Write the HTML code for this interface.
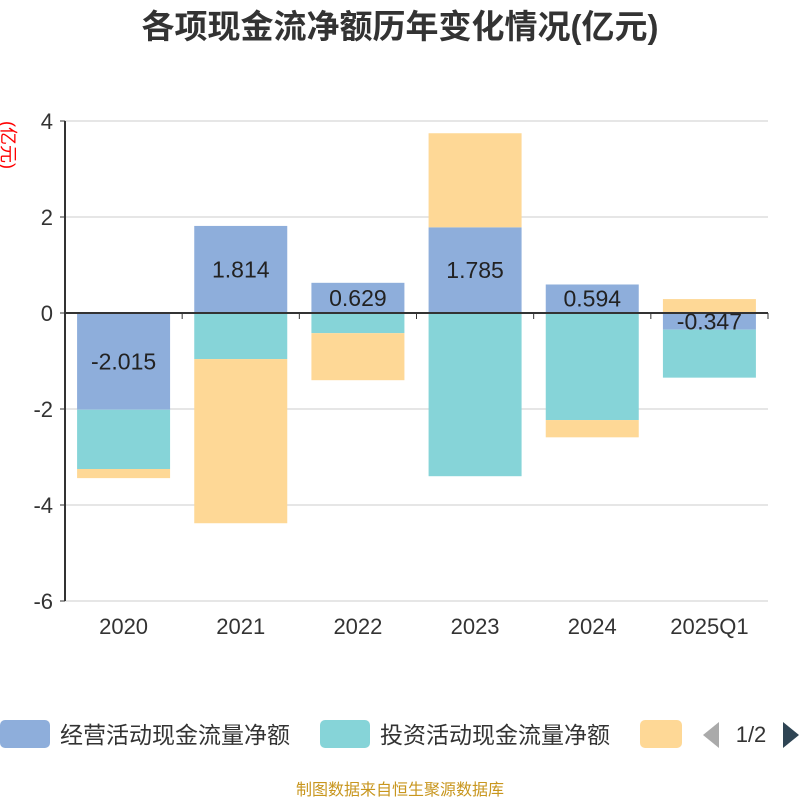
<!DOCTYPE html>
<html><head><meta charset="utf-8"><style>
body{margin:0;background:#fff;font-family:"Liberation Sans","Noto Sans CJK SC",sans-serif}
</style></head><body>
<svg id="c" width="800" height="800" xmlns="http://www.w3.org/2000/svg" style="font-family:'Liberation Sans','Noto Sans CJK SC',sans-serif">
<text x="400" y="38" text-anchor="middle" font-size="33" font-weight="bold" fill="#333">各项现金流净额历年变化情况(亿元)</text>
<text transform="translate(2,145) rotate(90)" text-anchor="middle" font-size="18" fill="red">(亿元)</text>
<g id="grid"></g><g id="bars"></g><g id="axis"></g>
<g>
<rect x="0" y="720" width="50" height="28" rx="5" fill="#8eaedb"/>
<text x="60" y="743" font-size="23" fill="#333">经营活动现金流量净额</text>
<rect x="320" y="720" width="50" height="28" rx="5" fill="#86d4d8"/>
<text x="380" y="743" font-size="23" fill="#333">投资活动现金流量净额</text>
<rect x="640" y="720" width="42" height="28" rx="5" fill="#fed896"/>
<polygon points="719,722 719,748 703,735" fill="#aaa"/>
<text x="751" y="742" text-anchor="middle" font-size="22" fill="#333">1/2</text>
<polygon points="783,722 783,748 799,735" fill="#2f4554"/>
</g>
<text x="400" y="795" text-anchor="middle" font-size="16" fill="#c8961e">制图数据来自恒生聚源数据库</text>
</svg>
<script>
const categories=["2020","2021","2022","2023","2024","2025Q1"];
const operating=[-2.015,1.814,0.629,1.785,0.594,-0.347];
const investing=[-1.235,-0.96,-0.42,-3.40,-2.23,-1.0];
const financing=[-0.19,-3.42,-0.98,1.96,-0.36,0.29];
const yTicks=[4,2,0,-2,-4,-6];
const NS="http://www.w3.org/2000/svg";
const x0=65,x1=768,yTop=121,yBot=601,vMax=4,vMin=-6;
const y=v=>yTop+(vMax-v)/(vMax-vMin)*(yBot-yTop);
const band=(x1-x0)/categories.length;
const xc=i=>x0+band*(i+0.5);
function mk(t,a,p){const e=document.createElementNS(NS,t);for(const k in a)e.setAttribute(k,a[k]);(p||document.getElementById('c')).appendChild(e);return e;}
const grid=document.getElementById('grid'),bars=document.getElementById('bars'),axis=document.getElementById('axis');
yTicks.forEach(t=>{
 const l=mk('line',{x1:x0,x2:x1,y1:y(t),y2:y(t),stroke:t===0?'none':'#ccc','stroke-width':1},grid);
 
 
 mk('line',{x1:x0-5,x2:x0,y1:y(t),y2:y(t),stroke:'#333'},axis);
 const tx=mk('text',{x:x0-12,y:y(t)+8,'text-anchor':'end','font-size':22,fill:'#333'},axis);
 tx.textContent=t;
 
 
});
const ya=mk('line',{x1:x0,x2:x0,y1:yTop,y2:yBot,stroke:'#333','stroke-width':2},axis);


const xa=mk('line',{x1:x0,x2:x1,y1:y(0),y2:y(0),stroke:'#333','stroke-width':2},axis);


const series=[[operating,'#8eaedb','operating'],[investing,'#86d4d8','investing'],[financing,'#fed896','financing']];
const bw=93;
categories.forEach((c,i)=>{
 let pos=0,neg=0;
 series.forEach(([arr,col,nm])=>{
  const v=arr[i];let a,b;
  if(v>=0){a=pos;b=pos+v;pos=b;}else{a=neg;b=neg+v;neg=b;}
  const r=mk('rect',{x:xc(i)-bw/2,y:Math.min(y(a),y(b)),width:bw,height:Math.abs(y(a)-y(b)),fill:col},bars);
  
  
 });
 const v=operating[i];
 const lt=mk('text',{x:xc(i),y:(y(0)+y(v))/2+8,'text-anchor':'middle','font-size':23,fill:'#222'},axis);
 lt.textContent=v.toFixed(3);
 
 
 const xt=mk('text',{x:xc(i),y:634,'text-anchor':'middle','font-size':22,fill:'#333'},axis);
 xt.textContent=c;
 
 
});
for(let i=0;i<=categories.length;i++){mk('line',{x1:x0+band*i,x2:x0+band*i,y1:y(0),y2:y(0)+6,stroke:'#333'},axis);}
</script>
</body></html>
